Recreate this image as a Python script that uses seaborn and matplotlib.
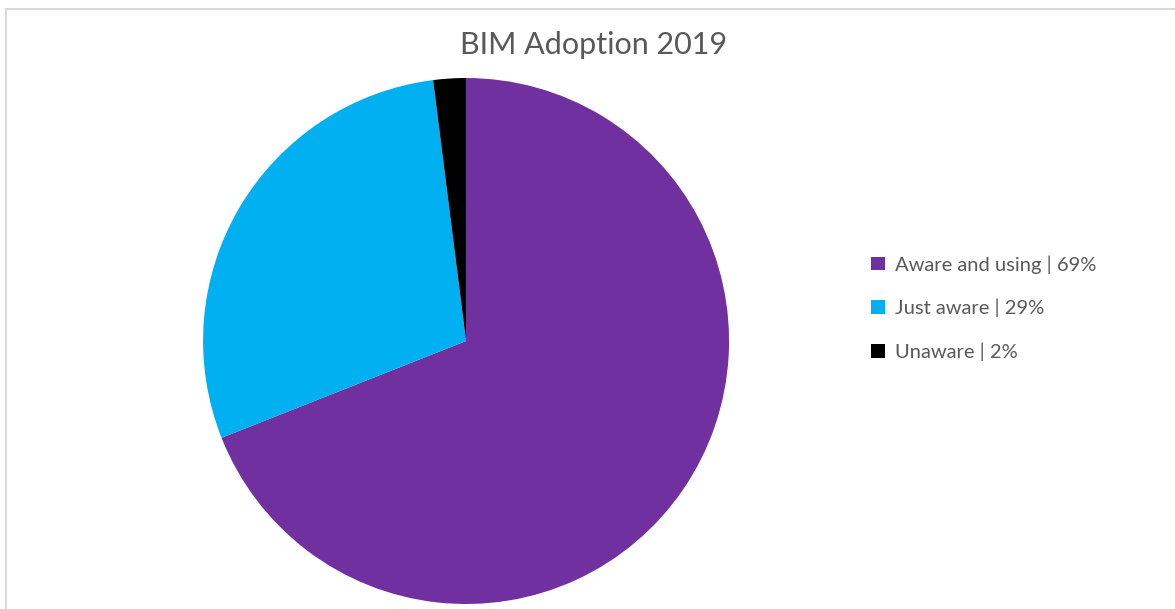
import matplotlib
matplotlib.use('Agg')
import matplotlib.pyplot as plt
import seaborn as sns
from matplotlib.patches import Rectangle

# data
categories = ['Aware and using', 'Just aware', 'Unaware']
shares = [69, 29, 2]
colors = ['#7030A0', '#00B0F0', '#000000']
title = 'BIM Adoption 2019'

sns.set_theme(style='white')
plt.rcParams['font.family'] = ['Lato', 'DejaVu Sans']

fig = plt.figure(figsize=(11.75, 6.09), dpi=100)
ax = fig.add_axes([0.1728, 0.0082, 0.4477, 0.8637])

wedges, _ = ax.pie(shares, colors=colors, startangle=90, counterclock=False,
                   wedgeprops={'linewidth': 0})
ax.set_aspect('equal')
ax.set_xlim(-1, 1)
ax.set_ylim(-1, 1)
ax.axis('off')

labels = [f'{c} | {s}%' for c, s in zip(categories, shares)]
fig.legend(wedges, labels, loc='upper left', bbox_to_anchor=(871 / 1175, 1 - 255 / 609),
           frameon=False, fontsize=14.5, labelcolor='#595959',
           handlelength=0.68, handleheight=0.68, handletextpad=0.5,
           labelspacing=1.25, borderpad=0, borderaxespad=0)

fig.text(594 / 1175, 1 - 45 / 609, title, ha='center', va='center',
         fontsize=22, color='#595959')

# thin grey frame like the screenshot
fig.patches.append(Rectangle((6 / 1175, -0.01), 1.0, 1 - 9 / 609 + 0.01,
                             transform=fig.transFigure, fill=False,
                             edgecolor='#d9d9d9', linewidth=1.5))

fig.savefig('out.png', dpi=100)
plt.close()
